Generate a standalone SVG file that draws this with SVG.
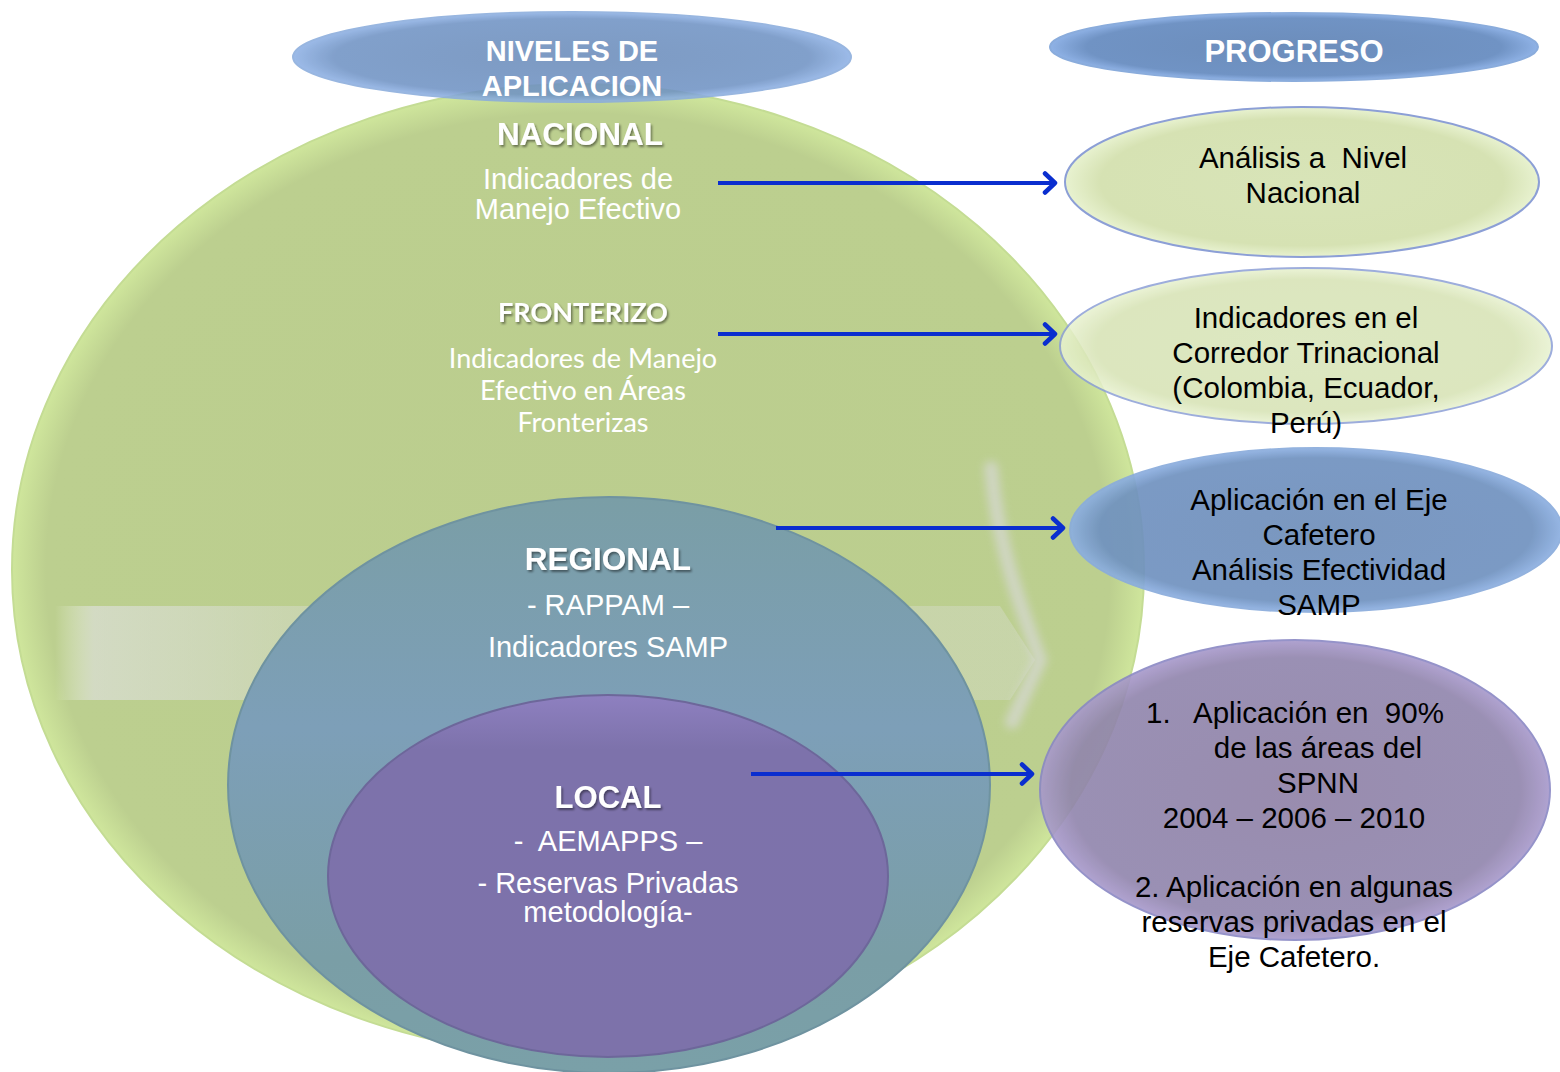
<svg xmlns="http://www.w3.org/2000/svg" width="1560" height="1072" viewBox="0 0 1560 1072">
<defs>
  <radialGradient id="gGreen" cx="0.5" cy="0.5" r="0.5">
    <stop offset="0" stop-color="#bbcd8e"/>
    <stop offset="0.94" stop-color="#bccf8f"/>
    <stop offset="1" stop-color="#cfe69c"/>
  </radialGradient>
  <linearGradient id="gBlue" x1="0" y1="0" x2="0" y2="1">
    <stop offset="0" stop-color="#7a9ea6"/>
    <stop offset="0.4" stop-color="#7d9fb8"/>
    <stop offset="0.8" stop-color="#7a9ea6"/>
    <stop offset="1" stop-color="#7aa0a8"/>
  </linearGradient>
  <linearGradient id="gPurple" x1="0" y1="0" x2="0" y2="1">
    <stop offset="0" stop-color="#8e80c0"/>
    <stop offset="0.15" stop-color="#7d72ab"/>
    <stop offset="1" stop-color="#7d72aa"/>
  </linearGradient>
  <radialGradient id="gHead" cx="0.5" cy="0.5" r="0.5">
    <stop offset="0" stop-color="#6c8dbb"/>
    <stop offset="0.85" stop-color="#7093c4"/>
    <stop offset="1" stop-color="#8fb2e6"/>
  </radialGradient>
  <radialGradient id="gPale" cx="0.5" cy="0.5" r="0.5">
    <stop offset="0" stop-color="#d8e4b8"/>
    <stop offset="0.85" stop-color="#d6e2b3"/>
    <stop offset="1" stop-color="#e8f2d0"/>
  </radialGradient>
  <radialGradient id="gEje" cx="0.5" cy="0.5" r="0.5">
    <stop offset="0" stop-color="#6f8fba"/>
    <stop offset="0.88" stop-color="#7092c0"/>
    <stop offset="1" stop-color="#8db0e2"/>
  </radialGradient>
  <radialGradient id="gPurR" cx="0.5" cy="0.5" r="0.5">
    <stop offset="0" stop-color="#8e80a6"/>
    <stop offset="0.88" stop-color="#9084ac"/>
    <stop offset="1" stop-color="#a899cc"/>
  </radialGradient>
  <linearGradient id="gBand" x1="0" y1="0" x2="1" y2="0">
    <stop offset="0" stop-color="#ffffff" stop-opacity="0"/>
    <stop offset="0.04" stop-color="#e2e2e6" stop-opacity="0.6"/>
    <stop offset="0.25" stop-color="#e2e2e6" stop-opacity="0.35"/>
    <stop offset="1" stop-color="#e2e2e6" stop-opacity="0.3"/>
  </linearGradient>
  <filter id="blur" x="-50%" y="-10%" width="200%" height="120%">
    <feGaussianBlur stdDeviation="4"/>
  </filter>
  <filter id="shadow" x="-10%" y="-30%" width="130%" height="170%">
    <feDropShadow dx="1.5" dy="2" stdDeviation="1.2" flood-color="#000" flood-opacity="0.45"/>
  </filter>
  <marker id="chev" viewBox="0 0 16 24" refX="13" refY="12" markerWidth="16" markerHeight="24" markerUnits="userSpaceOnUse" orient="auto">
    <path d="M3,2.5 L13,12 L3,21.5" fill="none" stroke="#0a2ecf" stroke-width="4.5" stroke-linecap="round" stroke-linejoin="round"/>
  </marker>
  <style>
    .hd { font-family: "Liberation Sans", Arial, sans-serif; font-weight: bold; fill: #ffffff; text-anchor: middle; }
    .lbl { font-family: "Liberation Sans", Arial, sans-serif; font-weight: bold; fill: #ffffff; text-anchor: middle; filter: url(#shadow); }
    .wt { font-family: "Liberation Sans", Arial, sans-serif; fill: #ffffff; text-anchor: middle; font-size: 29px; white-space: pre; }
    .cal { font-family: Lato, "Open Sans", sans-serif; fill: #ffffff; text-anchor: middle; font-size: 27px; }
    .bk { font-family: "Liberation Sans", Arial, sans-serif; fill: #000000; text-anchor: middle; font-size: 29.5px; white-space: pre; }
    .bks { font-family: "Liberation Sans", Arial, sans-serif; fill: #000000; text-anchor: start; font-size: 29.5px; white-space: pre; }
    .conn { stroke: #0a2ecf; stroke-width: 4; fill: none; marker-end: url(#chev); }
  </style>
</defs>
<rect width="1560" height="1072" fill="#ffffff"/>

<g id="nacional">
  <ellipse cx="578" cy="570" rx="566" ry="486" fill="url(#gGreen)" stroke="#c4dc94" stroke-width="2"/>
  <path d="M55,606 L1000,606 L1035,660 L1010,700 L55,700 Z" fill="url(#gBand)"/>
  <path d="M991,468 C998,545 1018,600 1040,660 L1012,722" fill="none" stroke="#d6d8d2" stroke-width="14" stroke-linecap="round" opacity="0.75" filter="url(#blur)"/>
  <text class="lbl" x="580" y="145" font-size="31.5">NACIONAL</text>
  <text class="wt" x="578" y="189">Indicadores de</text>
  <text class="wt" x="578" y="219">Manejo Efectivo</text>
</g>

<g id="fronterizo">
  <text x="583" y="322" font-family="Lato, 'Open Sans', sans-serif" font-weight="bold" font-size="27" fill="#ffffff" text-anchor="middle" filter="url(#shadow)">FRONTERIZO</text>
  <text class="cal" x="583" y="368">Indicadores de Manejo</text>
  <text class="cal" x="583" y="400">Efectivo en Áreas</text>
  <text class="cal" x="583" y="432">Fronterizas</text>
</g>

<g id="regional">
  <ellipse cx="609" cy="785" rx="381" ry="288" fill="url(#gBlue)" stroke="#6f93a0" stroke-width="2"/>
  <text class="lbl" x="608" y="570" font-size="31.5">REGIONAL</text>
  <text class="wt" x="608" y="615">- RAPPAM –</text>
  <text class="wt" x="608" y="657">Indicadores SAMP</text>
</g>

<g id="local">
  <ellipse cx="608" cy="876" rx="280" ry="181" fill="url(#gPurple)" stroke="#6d679a" stroke-width="2"/>
  <text class="lbl" x="608" y="808" font-size="31">LOCAL</text>
  <text class="wt" x="608" y="851" xml:space="preserve">-  AEMAPPS –</text>
  <text class="wt" x="608" y="893">- Reservas Privadas</text>
  <text class="wt" x="608" y="922">metodología-</text>
</g>

<g id="niveles">
  <ellipse cx="572" cy="57" rx="279" ry="45" fill="url(#gHead)" opacity="0.88" stroke="#8aacdc" stroke-width="2"/>
  <text class="hd" x="572" y="61" font-size="29">NIVELES DE</text>
  <text class="hd" x="572" y="96" font-size="29">APLICACION</text>
</g>

<g id="progreso">
  <ellipse cx="1294" cy="47" rx="244" ry="34" fill="url(#gHead)" stroke="#8aacdc" stroke-width="2"/>
  <text class="hd" x="1294" y="62" font-size="31">PROGRESO</text>
</g>

<g id="analisis-nacional">
  <ellipse cx="1302" cy="182" rx="237" ry="75" fill="url(#gPale)" stroke="#8c9fd6" stroke-width="2"/>
  <text class="bk" x="1303" y="168" xml:space="preserve">Análisis a  Nivel</text>
  <text class="bk" x="1303" y="203">Nacional</text>
</g>

<g id="corredor">
  <ellipse cx="1306" cy="346" rx="246" ry="78" fill="url(#gPale)" opacity="0.85" stroke="#8c9fd6" stroke-width="2"/>
  <text class="bk" x="1306" y="328">Indicadores en el</text>
  <text class="bk" x="1306" y="363">Corredor Trinacional</text>
  <text class="bk" x="1306" y="398">(Colombia, Ecuador,</text>
  <text class="bk" x="1306" y="433">Perú)</text>
</g>

<g id="eje-cafetero">
  <ellipse cx="1316" cy="530" rx="246" ry="82" fill="url(#gEje)" opacity="0.92" stroke="#8aacdc" stroke-width="2"/>
  <text class="bk" x="1319" y="510">Aplicación en el Eje</text>
  <text class="bk" x="1319" y="545">Cafetero</text>
  <text class="bk" x="1319" y="580">Análisis Efectividad</text>
  <text class="bk" x="1319" y="615">SAMP</text>
</g>

<g id="spnn">
  <ellipse cx="1295" cy="790" rx="255" ry="150" fill="url(#gPurR)" opacity="0.9" stroke="#8a88c4" stroke-width="2"/>
  <text class="bks" x="1146" y="723">1.</text>
  <text class="bks" x="1193" y="723" xml:space="preserve">Aplicación en  90%</text>
  <text class="bk" x="1318" y="758">de las áreas del</text>
  <text class="bk" x="1318" y="793">SPNN</text>
  <text class="bk" x="1294" y="828">2004 – 2006 – 2010</text>
  <text class="bk" x="1294" y="897">2. Aplicación en algunas</text>
  <text class="bk" x="1294" y="932">reservas privadas en el</text>
  <text class="bk" x="1294" y="967">Eje Cafetero.</text>
</g>

<g id="connectors">
  <line class="conn" x1="718" y1="183" x2="1055" y2="183"/>
  <line class="conn" x1="718" y1="334" x2="1055" y2="334"/>
  <line class="conn" x1="776" y1="528" x2="1063" y2="528"/>
  <line class="conn" x1="751" y1="774" x2="1032" y2="774"/>
</g>
</svg>
